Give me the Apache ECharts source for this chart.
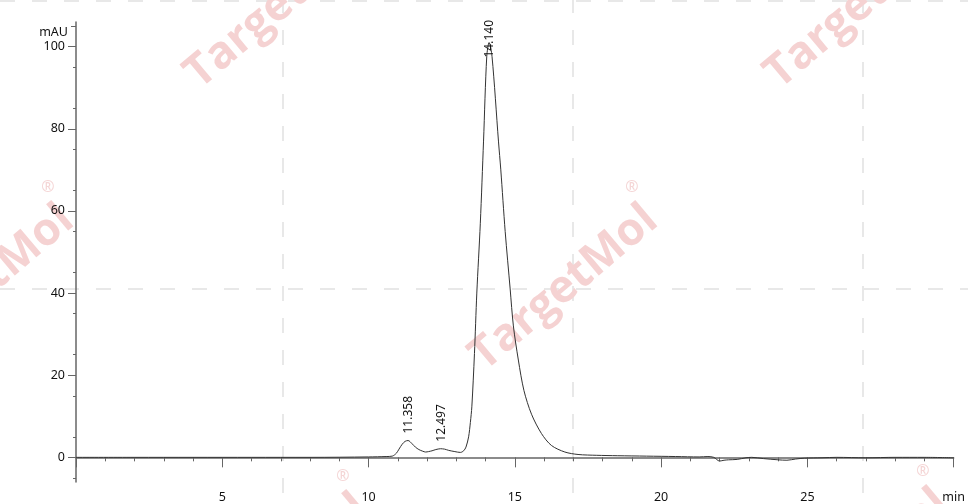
<!DOCTYPE html>
<html>
<head>
<meta charset="utf-8">
<script src="https://cdn.jsdelivr.net/npm/echarts@6/dist/echarts.min.js"></script>
<style>
  html, body { margin: 0; padding: 0; background: #fff; }
  #chart { width: 968px; height: 504px; }
</style>
</head>
<body>
<div id="chart"></div>
<script>
// retention time (min) and detector signal (mAU)
var times = [0, 2, 4, 6, 8, 10, 10.6, 10.81, 10.95, 11.04, 11.15, 11.25, 11.35, 11.49, 11.6, 11.72, 11.85, 11.95,
    12.05, 12.17, 12.3, 12.46, 12.6, 12.74, 12.95, 13.14, 13.25, 13.33, 13.42, 13.48, 13.53, 13.62, 13.7, 13.82,
    13.93, 14.04, 14.12, 14.22, 14.44, 14.52, 14.67, 14.84, 14.95, 15.12, 15.31, 15.57, 15.91, 16.25, 16.71, 17.16, 17.8,
    18.5, 19.5, 20.5, 21.3, 21.6, 21.8, 22.0, 22.15, 22.3, 22.6, 22.9, 23.1, 23.5, 24.0, 24.3, 24.6, 24.9, 25.5,
    26, 27, 28, 29, 30];
var signal = [0, 0, 0, 0, 0, 0.1, 0.2, 0.3, 1.0, 2.0, 3.2, 3.9, 4.1, 3.3, 2.5, 1.9, 1.5, 1.3,
    1.4, 1.6, 1.9, 2.1, 2.0, 1.7, 1.4, 1.2, 1.6, 2.5, 5.0, 8.5, 12.3, 25.3, 40, 57,
    77, 97.6, 101, 97.6, 77, 70, 55, 41, 32, 23.7, 16.3, 10.5, 5.8, 2.9, 1.3, 0.7, 0.5,
    0.4, 0.3, 0.2, 0.1, 0.2, 0.0, -0.9, -0.7, -0.6, -0.5, -0.1, 0.0, -0.3, -0.6, -0.7, -0.4, -0.2, -0.1,
    0, -0.1, 0, 0, -0.1];

var peakTimes = [11.358, 12.497, 14.140];
var peakHeights = [4.1, 2.1, 101];
var peakNames = ['11.358', '12.497', '14.140'];

var yLabelValues = [0, 20, 40, 60, 80, 100];
var yMinorValues = [-5, 5, 15, 25, 35, 45, 55, 65, 75, 85, 95];
var yUnitValue = [105];

var points = times.map(function (t, i) { return [t, signal[i]]; });

// main peak label is pushed down so it stays inside the plot
var labelGap = [7, 7, -15];

var font = '"Noto Sans", sans-serif';
var axisColor = '#666';

// watermark tiles (page decoration)
var wmCenters = [[-20, 288], [564, 288], [279, 6], [859, 6], [275, 577], [855, 572]];
var graphics = [];
[283, 573, 863].forEach(function (x) {
    graphics.push({ type: 'line', z: -10, silent: true,
        shape: { x1: x, y1: -2, x2: x, y2: 504 },
        style: { stroke: '#e8e8e8', lineWidth: 2, lineDash: [15, 17] } });
});
[1, 289].forEach(function (y) {
    graphics.push({ type: 'line', z: -10, silent: true,
        shape: { x1: 0, y1: y, x2: 968, y2: y },
        style: { stroke: '#e8e8e8', lineWidth: 2, lineDash: [15, 17] } });
});
wmCenters.forEach(function (c) {
    graphics.push({ type: 'text', z: -5, silent: true, x: c[0], y: c[1], rotation: 0.70,
        style: { text: 'TargetMol', fill: '#f5d2d2', font: 'bold 45px "Open Sans", sans-serif',
            align: 'center', verticalAlign: 'middle' } });
    graphics.push({ type: 'text', z: -5, silent: true, x: c[0] + 68, y: c[1] - 101,
        style: { text: '®', fill: '#f5d6d6', font: '16px "Noto Sans", sans-serif',
            align: 'center', verticalAlign: 'middle' } });
});

function yAxisBase() {
    return {
        type: 'value', min: -6, max: 106, position: 'left', offset: 0,
        splitLine: { show: false },
        axisLine: { show: false },
        axisTick: { show: false },
        axisLabel: { show: false }
    };
}

var yMain = yAxisBase();
yMain.axisLine = { show: true, lineStyle: { color: axisColor, width: 1.5 } };
yMain.axisTick = { show: true, length: 8, customValues: yLabelValues, lineStyle: { color: axisColor } };
yMain.axisLabel = { show: true, customValues: yLabelValues, margin: 11, color: '#111', fontSize: 12.5, fontFamily: font };

var yMinor = yAxisBase();
yMinor.axisTick = { show: true, length: 3, customValues: yMinorValues, lineStyle: { color: axisColor } };

var yUnit = yAxisBase();
yUnit.axisTick = { show: true, length: 5, customValues: yUnitValue, lineStyle: { color: axisColor } };
yUnit.axisLabel = { show: true, customValues: yUnitValue, margin: 8, color: '#111', fontSize: 12.5, fontFamily: font,
    verticalAlign: 'top', formatter: function () { return 'mAU'; } };

var option = {
    animation: false,
    backgroundColor: '#fff',
    graphic: graphics,
    grid: { left: 76, right: 11, top: 22, bottom: 21.5 },
    xAxis: {
        type: 'value', min: 0, max: 30, interval: 5,
        splitLine: { show: false },
        axisLine: { lineStyle: { color: axisColor, width: 1.5 } },
        axisTick: { length: 10, lineStyle: { color: axisColor } },
        minorTick: { show: true, splitNumber: 5, length: 4, lineStyle: { color: axisColor } },
        axisLabel: {
            margin: 9, color: '#111', fontSize: 12.5, fontFamily: font,
            formatter: function (v) {
                if (v === 0) return '';
                if (v === 30) return 'min';
                return String(v);
            }
        }
    },
    yAxis: [yMain, yMinor, yUnit],
    series: [{
        type: 'line',
        data: points,
        yAxisIndex: 0,
        showSymbol: false,
        smooth: 0.3,
        lineStyle: { color: '#333', width: 1 },
        markPoint: {
            silent: true,
            symbol: 'rect',
            symbolSize: 0,
            data: peakTimes.map(function (t, i) {
                return {
                    name: peakNames[i],
                    coord: [t, peakHeights[i]],
                    label: { distance: labelGap[i] }
                };
            }),
            label: {
                show: true, position: 'top', rotate: 90, align: 'left', verticalAlign: 'middle',
                formatter: '{b}', color: '#111', fontSize: 12, fontFamily: font
            }
        }
    }]
};

echarts.init(document.getElementById('chart')).setOption(option);
</script>
</body>
</html>
